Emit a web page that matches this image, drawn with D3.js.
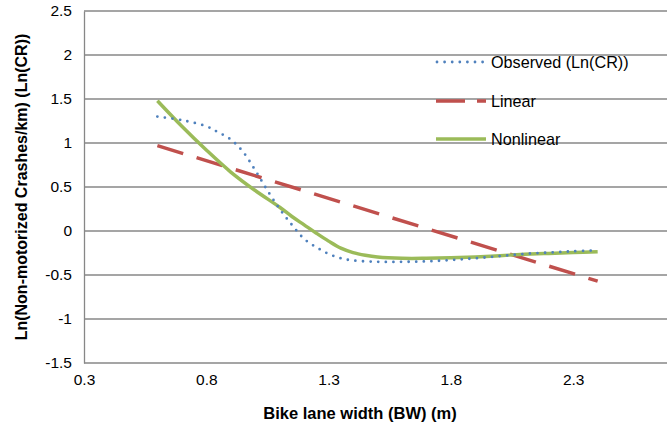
<!DOCTYPE html>
<html><head><meta charset="utf-8">
<script src="https://cdn.jsdelivr.net/npm/d3@7"></script>
<style>body{margin:0;background:#fff}svg{display:block}</style>
</head><body><svg id="c" width="667" height="427"></svg>
<script>
const xTicks = [0.3, 0.8, 1.3, 1.8, 2.3];
const yTicks = [-1.5, -1, -0.5, 0, 0.5, 1, 1.5, 2, 2.5];
const observedX = [0.6,0.7,0.8,0.85,0.9,0.95,1.0,1.05,1.1,1.15,1.2,1.25,1.3,1.35,1.4,1.5,1.6,1.7,1.8,1.9,2.0,2.1,2.2,2.3,2.4];
const observedY = [1.30,1.26,1.19,1.12,1.04,0.90,0.69,0.46,0.25,0.07,-0.09,-0.185,-0.26,-0.31,-0.335,-0.35,-0.35,-0.345,-0.33,-0.31,-0.285,-0.26,-0.245,-0.23,-0.22];
const linearX = [0.6, 2.4];
const linearY = [0.97, -0.57];
const nonlinearX = [0.6,0.7,0.8,0.9,1.0,1.1,1.15,1.2,1.25,1.3,1.35,1.4,1.45,1.5,1.6,1.7,1.8,1.9,2.0,2.1,2.2,2.3,2.4];
const nonlinearY = [1.48,1.19,0.92,0.67,0.46,0.27,0.165,0.07,-0.025,-0.115,-0.195,-0.245,-0.275,-0.295,-0.31,-0.31,-0.305,-0.295,-0.28,-0.265,-0.255,-0.245,-0.235];
const seriesNames = ["Observed (Ln(CR))", "Linear", "Nonlinear"];

const svg = d3.select("#c");
const font = "'Liberation Sans', Arial, sans-serif";
const x = d3.scaleLinear().domain([0.3, 2.8]).range([84, 84 + 5 * 122.3]);
const y = d3.scaleLinear().domain([-1.5, 2.5]).range([363, 11]);
const right = 667;

// gridlines
svg.append("g").selectAll("line").data(yTicks.filter(d => d !== -1.5)).join("line")
  .attr("x1", x(0.3)).attr("x2", right).attr("y1", d => y(d)).attr("y2", d => y(d))
  .attr("stroke", "#878787").attr("stroke-width", 1.3);

// axes
const xAxis = svg.append("g").attr("transform", `translate(0,${y(-1.5)})`)
  .call(d3.axisBottom(x).tickValues(xTicks).tickSize(0).tickPadding(11).tickFormat(d3.format(".1f")));
xAxis.select(".domain").attr("stroke", "#878787").attr("stroke-width", 1.3).attr("d", `M${x(0.3)},0H${right}`);
xAxis.selectAll("text").attr("font-family", font).attr("font-size", 15.5).attr("fill", "#000");

const yAxis = svg.append("g").attr("transform", `translate(${x(0.3)},0)`)
  .call(d3.axisLeft(y).tickValues(yTicks).tickSize(0).tickPadding(12).tickFormat(d => String(d)));
yAxis.select(".domain").attr("stroke", "#878787").attr("stroke-width", 1.3);
yAxis.selectAll("text").attr("font-family", font).attr("font-size", 15.5).attr("fill", "#000");

// series
const line = d3.line().x(d => x(d[0])).y(d => y(d[1])).curve(d3.curveCatmullRom.alpha(0.5));
const obs = observedX.map((v, i) => [v, observedY[i]]);
const lin = linearX.map((v, i) => [v, linearY[i]]);
const non = nonlinearX.map((v, i) => [v, nonlinearY[i]]);

svg.append("path").datum(lin).attr("d", line).attr("fill", "none")
  .attr("stroke", "#C0504D").attr("stroke-width", 3.5).attr("stroke-dasharray", "27,14");
svg.append("path").datum(non).attr("d", line).attr("fill", "none")
  .attr("stroke", "#9BBB59").attr("stroke-width", 3.5);
svg.append("path").datum(obs).attr("d", line).attr("fill", "none")
  .attr("stroke", "#4F81BD").attr("stroke-width", 2.8).attr("stroke-linecap", "round").attr("stroke-dasharray", "0,7.6");

// legend
const legY = [62, 101, 139];
const lg = svg.append("g");
lg.append("line").attr("x1", 437).attr("x2", 484).attr("y1", legY[0]).attr("y2", legY[0])
  .attr("stroke", "#4F81BD").attr("stroke-width", 2.8).attr("stroke-linecap", "round").attr("stroke-dasharray", "0,7.6");
lg.append("line").attr("x1", 436).attr("x2", 486).attr("y1", legY[1]).attr("y2", legY[1])
  .attr("stroke", "#C0504D").attr("stroke-width", 3.5).attr("stroke-dasharray", "29,12");
lg.append("line").attr("x1", 436).attr("x2", 486).attr("y1", legY[2]).attr("y2", legY[2])
  .attr("stroke", "#9BBB59").attr("stroke-width", 3.5);
lg.selectAll("text").data(seriesNames).join("text")
  .attr("x", 491).attr("y", (d, i) => legY[i]).attr("dy", "0.36em")
  .attr("font-family", font).attr("font-size", 16.2).attr("fill", "#000").text(d => d);

// titles
svg.append("text").attr("x", 360).attr("y", 419).attr("text-anchor", "middle")
  .attr("font-family", font).attr("font-size", 16.5).attr("font-weight", "bold").text("Bike lane width (BW) (m)");
svg.append("text").attr("transform", "translate(27,187) rotate(-90)").attr("text-anchor", "middle")
  .attr("font-family", font).attr("font-size", 16).attr("font-weight", "bold").text("Ln(Non-motorized Crashes/km) (Ln(CR))");
</script></body></html>
